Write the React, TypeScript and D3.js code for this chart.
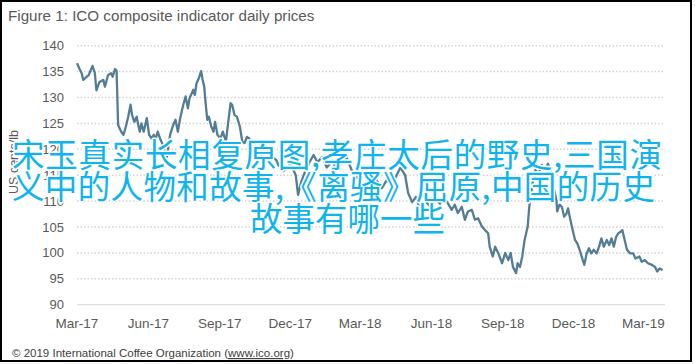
import React from "react";
import * as d3 from "d3";

const title = "Figure 1: ICO composite indicator daily prices";
const yAxisTitle = "US cents/lb";
const footer = "© 2019 International Coffee Organization (";
const footerLink = "www.ico.org";
const overlayLines = [
  "宋玉真实长相复原图,孝庄太后的野史,三国演",
  "义中的人物和故事,《离骚》屈原,中国的历史",
  "故事有哪一些",
];

const yTicks = [90, 95, 100, 105, 110, 115, 120, 125, 130, 135, 140];
const xTickDates = ["2017-03-01", "2017-06-01", "2017-09-01", "2017-12-01", "2018-03-01", "2018-06-01", "2018-09-01", "2018-12-01", "2019-03-01"];
const xTickLabels = ["Mar-17", "Jun-17", "Sep-17", "Dec-17", "Mar-18", "Jun-18", "Sep-18", "Dec-18", "Mar-19"];

const dates = [
  "2017-03-01","2017-03-04","2017-03-07","2017-03-09","2017-03-12","2017-03-16","2017-03-21","2017-03-24","2017-03-26","2017-03-30",
  "2017-04-04","2017-04-06","2017-04-10","2017-04-14","2017-04-16","2017-04-19","2017-04-21","2017-04-22","2017-04-23","2017-04-27",
  "2017-04-30","2017-05-03","2017-05-06","2017-05-09","2017-05-11","2017-05-14","2017-05-17","2017-05-19","2017-05-21","2017-05-23",
  "2017-05-26","2017-05-30","2017-06-02","2017-06-05","2017-06-08","2017-06-10","2017-06-13","2017-06-16","2017-06-20","2017-06-22",
  "2017-06-25","2017-06-29","2017-07-03","2017-07-06","2017-07-09","2017-07-12","2017-07-16","2017-07-19","2017-07-22","2017-07-24",
  "2017-07-29","2017-07-31","2017-08-02","2017-08-05","2017-08-08","2017-08-10","2017-08-12","2017-08-14","2017-08-16","2017-08-18",
  "2017-08-21","2017-08-24","2017-08-26","2017-08-29","2017-09-02","2017-09-05","2017-09-09","2017-09-12","2017-09-15","2017-09-17",
  "2017-09-20","2017-09-23","2017-09-27","2017-09-30","2017-10-03","2017-10-06","2017-10-09","2017-10-12","2017-10-16","2017-10-20",
  "2017-10-25","2017-10-31","2017-11-04","2017-11-08","2017-11-13","2017-11-16","2017-11-19","2017-11-22","2017-11-26","2017-11-29",
  "2017-12-02","2017-12-05","2017-12-08","2017-12-11","2017-12-13","2017-12-15","2017-12-20","2017-12-26","2017-12-31","2018-01-05",
  "2018-01-11","2018-01-17","2018-01-24","2018-01-30","2018-02-05","2018-02-12","2018-02-18","2018-02-25","2018-03-03","2018-03-10",
  "2018-03-16","2018-03-23","2018-03-29","2018-04-04","2018-04-11","2018-04-17","2018-04-22","2018-04-28","2018-05-02","2018-05-07",
  "2018-05-12","2018-05-17","2018-05-24","2018-05-30","2018-06-03","2018-06-08","2018-06-12","2018-06-16","2018-06-22","2018-06-27",
  "2018-07-01","2018-07-05","2018-07-10","2018-07-14","2018-07-18","2018-07-23","2018-07-27","2018-07-31","2018-08-05","2018-08-09",
  "2018-08-13","2018-08-15","2018-08-19","2018-08-22","2018-08-26","2018-08-31","2018-09-04","2018-09-08","2018-09-11","2018-09-14",
  "2018-09-18","2018-09-20","2018-09-23","2018-09-26","2018-09-29","2018-10-01","2018-10-03","2018-10-05","2018-10-08","2018-10-10",
  "2018-10-13","2018-10-17","2018-10-21","2018-10-25","2018-10-29","2018-11-03","2018-11-05","2018-11-09","2018-11-10","2018-11-13",
  "2018-11-16","2018-11-19","2018-11-22","2018-11-24","2018-11-27","2018-11-30","2018-12-03","2018-12-06","2018-12-09","2018-12-13",
  "2018-12-15","2018-12-18","2018-12-21","2018-12-24","2018-12-27","2018-12-31","2019-01-03","2019-01-06","2019-01-09","2019-01-13",
  "2019-01-16","2019-01-19","2019-01-22","2019-01-25","2019-01-28","2019-01-31","2019-02-02","2019-02-05","2019-02-08","2019-02-12",
  "2019-02-16","2019-02-19","2019-02-24","2019-02-27","2019-03-03","2019-03-07","2019-03-12","2019-03-16","2019-03-19","2019-03-22",
  "2019-03-26",
];

const prices = [
  136.6,135.6,134.7,133.4,133.8,134.3,136.1,134.7,131.4,133.0,
  133.4,132.1,134.3,134.7,134.0,135.5,135.2,130.0,124.7,123.4,
  122.8,124.4,126.3,128.6,126.6,125.3,126.3,124.7,123.4,125.0,
  123.4,126.0,122.8,122.1,122.8,121.8,123.4,122.1,120.8,119.2,
  118.6,122.8,124.7,125.7,123.4,126.0,128.6,130.2,127.9,129.8,
  131.5,130.5,132.7,133.7,135.1,133.4,132.1,128.6,125.7,126.3,
  124.4,123.4,125.3,122.8,122.1,123.4,121.5,125.3,128.9,128.6,
  126.6,126.3,124.4,121.5,121.2,122.4,122.1,120.8,119.5,120.2,
  118.5,117.6,117.6,118.5,117.9,116.8,117.0,115.8,116.3,116.8,
  117.0,116.0,115.0,111.2,112.5,113.7,115.7,117.6,118.9,117.5,
  118.5,116.5,117.8,116.0,117.5,118.3,116.0,114.5,115.8,114.2,
  115.5,113.8,112.5,114.0,113.0,115.0,116.5,115.0,111.5,109.8,
  110.8,108.5,110.0,109.0,110.8,110.2,109.5,110.8,109.6,108.3,
  109.3,107.7,108.9,106.4,108.0,108.3,106.4,106.7,105.1,104.4,
  103.8,101.2,99.3,101.2,100.0,98.0,100.0,98.6,100.0,97.3,
  96.1,98.0,97.3,99.3,102.5,103.8,105.1,108.9,112.1,114.1,
  116.0,115.2,117.0,116.0,117.2,115.4,112.8,110.2,108.0,109.3,
  108.9,107.0,107.6,108.6,106.4,104.4,102.5,101.8,100.6,98.6,
  97.7,99.9,100.9,99.9,100.6,99.9,101.2,102.8,101.2,102.5,
  101.5,102.8,101.2,103.1,103.8,104.1,104.4,102.5,100.6,99.9,
  99.9,98.9,99.3,98.3,98.6,98.0,97.7,97.3,96.4,97.0,
  96.7,
];

const W = 695;
const H = 364;
const parse = d3.timeParse("%Y-%m-%d");

export default function App() {
  const x = d3
    .scaleTime()
    .domain([parse("2017-03-01")!, parse("2019-03-29")!])
    .range([77, 665]);
  const y = d3.scaleLinear().domain([90, 140]).range([304.7, 45.7]);

  const data = dates.map((d, i) => ({ date: parse(d)!, value: prices[i] }));
  const line = d3
    .line<{ date: Date; value: number }>()
    .x((d) => x(d.date))
    .y((d) => y(d.value));

  const font = "'Liberation Sans', Arial, sans-serif";
  const grey = "#595959";
  const overlayX = [12, 12, 250];
  const overlayLen = [650, 643, 195];

  return (
    <div style={{ position: "absolute", left: 0, top: 0 }}>
      <svg width={W} height={H} style={{ display: "block" }}>
        <rect x={0} y={0} width={W} height={H} fill="#ffffff" />
        <rect x={1} y={1} width={690} height={360} fill="none" stroke="#000" strokeWidth={2} />
        <text x={8} y={21} fontFamily={font} fontSize={15.2} fill={grey}>
          {title}
        </text>
        {yTicks.map((t) => (
          <g key={t}>
            {t !== 90 && (
              <line
                x1={77}
                x2={665}
                y1={y(t)}
                y2={y(t)}
                stroke="#d3d3d3"
                strokeWidth={1.5}
                strokeDasharray="1.5 2"
              />
            )}
            <text
              x={64}
              y={y(t)}
              dy="0.35em"
              textAnchor="end"
              fontFamily={font}
              fontSize={13}
              fill={grey}
            >
              {t}
            </text>
          </g>
        ))}
        <line x1={77} x2={665} y1={y(90)} y2={y(90)} stroke="#d9d9d9" strokeWidth={1} />
        {xTickDates.map((d, i) => (
          <text
            key={d}
            x={x(parse(d)!)}
            y={328}
            textAnchor="middle"
            fontFamily={font}
            fontSize={13.5}
            fill={grey}
          >
            {xTickLabels[i]}
          </text>
        ))}
        <text
          transform={`translate(18,162) rotate(-90)`}
          textAnchor="middle"
          fontFamily={font}
          fontSize={12.5}
          fill={grey}
        >
          {yAxisTitle}
        </text>
        <path
          d={line(data) ?? ""}
          fill="none"
          stroke="#527d94"
          strokeWidth={2.3}
          strokeLinejoin="round"
        />
        <text x={12} y={357} fontFamily={font} fontSize={11.5} fill="#404040">
          {footer}
          <tspan textDecoration="underline">{footerLink}</tspan>
          <tspan>)</tspan>
        </text>
        {overlayLines.map((l, i) => (
          <text
            key={i}
            x={overlayX[i]}
            y={167 + i * 32}
            textLength={overlayLen[i]}
            lengthAdjust="spacing"
            fontFamily="'Noto Sans CJK SC', sans-serif"
            fontSize={32.5}
            fill="#0fb4ee"
            stroke="#ffffff"
            strokeWidth={3}
            paintOrder="stroke"
            strokeLinejoin="round"
          >
            {l}
          </text>
        ))}
      </svg>
    </div>
  );
}
